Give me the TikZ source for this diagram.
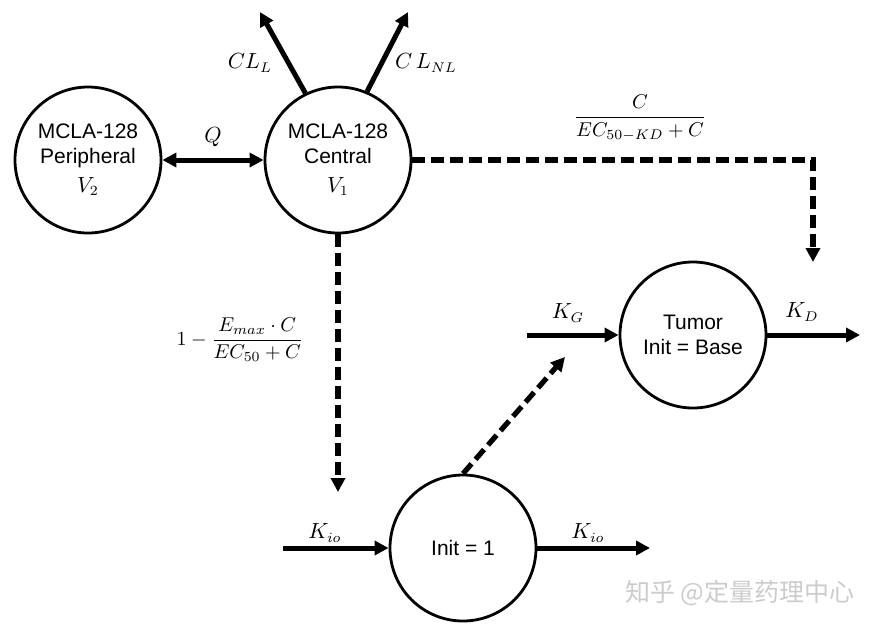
\documentclass[tikz,border=0pt]{standalone}
\usepackage{amsmath}
\usepackage{fontspec}
\newfontfamily\compfont{Liberation Sans}
\newfontfamily\cjkfont{Noto Sans CJK SC}
\usetikzlibrary{arrows.meta}

\begin{document}
\begin{tikzpicture}[x=0.5pt,y=-0.5pt,>={Triangle[length=7pt,width=7pt]},
  comp/.style={draw,circle,line width=1.4pt,minimum size=73pt,inner sep=0pt,
    align=center,font=\compfont\fontsize{10.5}{12.5}\selectfont},
  flow/.style={->,line width=2.5pt},
  ctrl/.style={->,line width=2.6pt,dash pattern=on 6.5pt off 3pt},
  lab/.style={font=\fontsize{10.5}{12.5}\selectfont}]
  \useasboundingbox (0,0) rectangle (880,629);
  \node[comp] (per) at (88,160) {MCLA-128\\Peripheral\\[2pt]$V_2$};
  \node[comp] (cen) at (338,160) {MCLA-128\\Central\\[2pt]$V_1$};
  \node[comp] (tum) at (693,335) {Tumor\\Init = Base};
  \node[comp] (ini) at (463,548) {Init = 1};
  \coordinate (cll-end) at (260,12);
  \coordinate (clnl-end) at (408,12);
  \coordinate (corner) at (813,160);
  \coordinate (kd-end) at (813,262);
  \coordinate (ini-end) at (338,492);
  \coordinate (kio-in) at (283,548);
  \coordinate (kio-out) at (650,548);
  \coordinate (drive) at (565,357);
  \coordinate (kg-in) at (527,335);
  \coordinate (kd-out) at (860,335);
  \draw[flow,<->] (per) -- (cen);
  \draw[flow] (cen.116) -- (cll-end);
  \draw[flow] (cen.67) -- (clnl-end);
  \draw[ctrl] (cen.east) -- (corner) -- (kd-end);
  \draw[ctrl] (cen.south) -- (ini-end);
  \draw[flow] (kio-in) -- (ini.west);
  \draw[flow] (ini.east) -- (kio-out);
  \draw[ctrl] (ini.north) -- (drive);
  \draw[flow] (kg-in) -- (tum.west);
  \draw[flow] (tum.east) -- (kd-out);
  \node[lab] (q) at (213,137) {$Q$};
  \node[lab] (cll) at (250,63) {$CL_L$};
  \node[lab] (clnl) at (426,63) {$C\,L_{NL}$};
  \node[font=\fontsize{10}{12}\selectfont] (kdfrac) at (640,118) {$\dfrac{C}{EC_{50-KD}+C}$};
  \node[font=\fontsize{10}{12}\selectfont] (emax) at (240,340) {$1-\dfrac{E_{max}\cdot C}{EC_{50}+C}$};
  \node[lab] (kg) at (568,313) {$K_G$};
  \node[lab] (kd) at (802,312) {$K_D$};
  \node[lab] (kioa) at (325,533) {$K_{io}$};
  \node[lab] (kiob) at (588,533) {$K_{io}$};
  \node[text=black!20,font=\cjkfont\fontsize{12.5}{14}\selectfont] (mark) at (740,593) {知乎 @定量药理中心};
\end{tikzpicture}
\end{document}
